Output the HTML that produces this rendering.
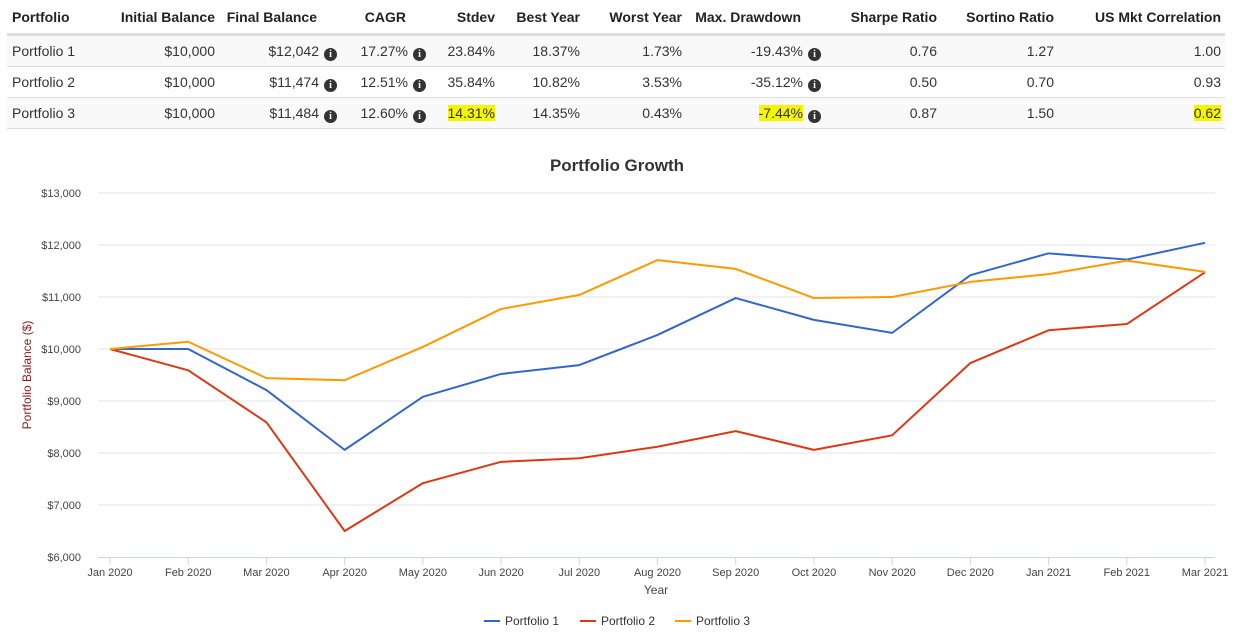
<!DOCTYPE html>
<html><head><meta charset="utf-8"><style>
body{margin:0;width:1240px;height:643px;background:#fff;font-family:"Liberation Sans",sans-serif;color:#333;position:relative;overflow:hidden}
.row{position:absolute;left:7px;width:1218px;height:31px;font-size:14px}
.c{position:absolute;top:0;line-height:31px;white-space:nowrap;text-align:right}
.hd{font-weight:bold;color:#222}
.ic{display:inline-block;width:13px;height:13px;border-radius:50%;background:#333;color:#fff;font-size:10px;line-height:13px;text-align:center;font-weight:bold;font-family:"Liberation Serif",serif;margin-left:5px;vertical-align:-1px}
.hl{background:#f5f500}
</style></head><body>
<div id="table"></div>
<svg id="chart" width="1240" height="643" style="position:absolute;left:0;top:0" font-family="Liberation Sans, sans-serif"></svg>
<script>
const headers=["Portfolio","Initial Balance","Final Balance","CAGR","Stdev","Best Year","Worst Year","Max. Drawdown","Sharpe Ratio","Sortino Ratio","US Mkt Correlation"];
const rowsData=[
["Portfolio 1","$10,000","$12,042","17.27%","23.84%","18.37%","1.73%","-19.43%","0.76","1.27","1.00"],
["Portfolio 2","$10,000","$11,474","12.51%","35.84%","10.82%","3.53%","-35.12%","0.50","0.70","0.93"],
["Portfolio 3","$10,000","$11,484","12.60%","14.31%","14.35%","0.43%","-7.44%","0.87","1.50","0.62"]];
const rightEdges=[null,208,310,399,488,573,675,794,930,1047,1214];
const iconCols=[2,3,7];
const hlCells=[[2,4],[2,7],[2,10]];
const T=document.getElementById('table');
function mkRow(top,bg,border){const r=document.createElement('div');r.className='row';r.style.top=top+'px';if(bg)r.style.background=bg;if(border)r.style.borderBottom=border;T.appendChild(r);return r;}
const hr=mkRow(2,null,'3px solid #ddd');hr.style.height='31px';


headers.forEach((h,i)=>{const d=document.createElement('div');d.className='c hd';d.textContent=h;
if(i===0)d.style.left='5px';else d.style.right=(1218-rightEdges[i])+'px';

hr.appendChild(d);});
rowsData.forEach((rd,ri)=>{const r=mkRow(36+ri*31,ri===1?'#fff':'#f9f9f9','1px solid #ddd');r.style.height='30px';


rd.forEach((v,i)=>{const d=document.createElement('div');d.className='c';
let txt=v;const hl=hlCells.some(c=>c[0]===ri&&c[1]===i);
d.innerHTML=(hl?'<span class="hl">'+txt+'</span>':txt)+(iconCols.includes(i)?'<span class="ic">i</span>':'');
if(i===0)d.style.left='5px';else d.style.right=(1218-rightEdges[i]+(iconCols.includes(i)?-20:0))+'px';

r.appendChild(d);});});
</script>
<script>
const months=["Jan 2020","Feb 2020","Mar 2020","Apr 2020","May 2020","Jun 2020","Jul 2020","Aug 2020","Sep 2020","Oct 2020","Nov 2020","Dec 2020","Jan 2021","Feb 2021","Mar 2021"];
const p1=[10000,10000,9210,8060,9080,9520,9690,10270,10980,10560,10310,11420,11840,11720,12042];
const p2=[10000,9590,8590,6500,7420,7830,7900,8120,8420,8060,8340,9730,10360,10480,11474];
const p3=[10000,10140,9440,9400,10040,10770,11040,11710,11540,10980,11000,11290,11440,11700,11484];
const yTicks=[6000,7000,8000,9000,10000,11000,12000,13000];
const yTickLabels=["$6,000","$7,000","$8,000","$9,000","$10,000","$11,000","$12,000","$13,000"];
const seriesNames=["Portfolio 1","Portfolio 2","Portfolio 3"];
const colors=["#3366cc","#dc3912","#ff9900"];
const S=document.getElementById('chart');const NS='http://www.w3.org/2000/svg';
const X0=110,X1=1205,Y0=557,Y1=193,YMIN=6000,YMAX=13000;
const x=i=>X0+(X1-X0)*i/(months.length-1);
const y=v=>Y0-(v-YMIN)/(YMAX-YMIN)*(Y0-Y1);
function el(t,a,p){const e=document.createElementNS(NS,t);for(const k in a)e.setAttribute(k,a[k]);(p||S).appendChild(e);return e;}
const tt=el('text',{x:617,y:171,'text-anchor':'middle','font-size':17,'font-weight':'bold',fill:'#333'});tt.textContent='Portfolio Growth';


yTicks.forEach((v,i)=>{if(i>0){const g=el('line',{x1:98,x2:1215,y1:y(v),y2:y(v),stroke:'#e6e6e6'});

}
const t=el('text',{x:81,y:y(v)+4,'text-anchor':'end','font-size':11,fill:'#444'});t.textContent=yTickLabels[i];

});
const ax=el('line',{x1:98,x2:1215,y1:Y0+0.5,y2:Y0+0.5,stroke:'#ccd6eb'});


months.forEach((m,i)=>{const tk=el('line',{x1:x(i),x2:x(i),y1:Y0,y2:Y0+8,stroke:'#ccd6eb'});


const t=el('text',{x:x(i),y:576,'text-anchor':'middle','font-size':11,fill:'#444'});t.textContent=m;

});
const yt=el('text',{x:31,y:375,'text-anchor':'middle','font-size':12,fill:'#8b1a1a',transform:'rotate(-90 31 375)'});yt.textContent='Portfolio Balance ($)';


const xt=el('text',{x:656,y:594,'text-anchor':'middle','font-size':12,fill:'#444'});xt.textContent='Year';


[p1,p2,p3].forEach((d,si)=>{const pl=el('polyline',{points:d.map((v,i)=>x(i)+','+y(v)).join(' '),fill:'none',stroke:colors[si],'stroke-width':2,'stroke-linejoin':'round'});

});
const lx=[484,580,675];
seriesNames.forEach((n,i)=>{const g=el('g',{});


el('line',{x1:lx[i],x2:lx[i]+16,y1:621,y2:621,stroke:colors[i],'stroke-width':2},g);
const t=el('text',{x:lx[i]+21,y:625,'font-size':12,fill:'#333'},g);t.textContent=n;});
</script>
</body></html>
